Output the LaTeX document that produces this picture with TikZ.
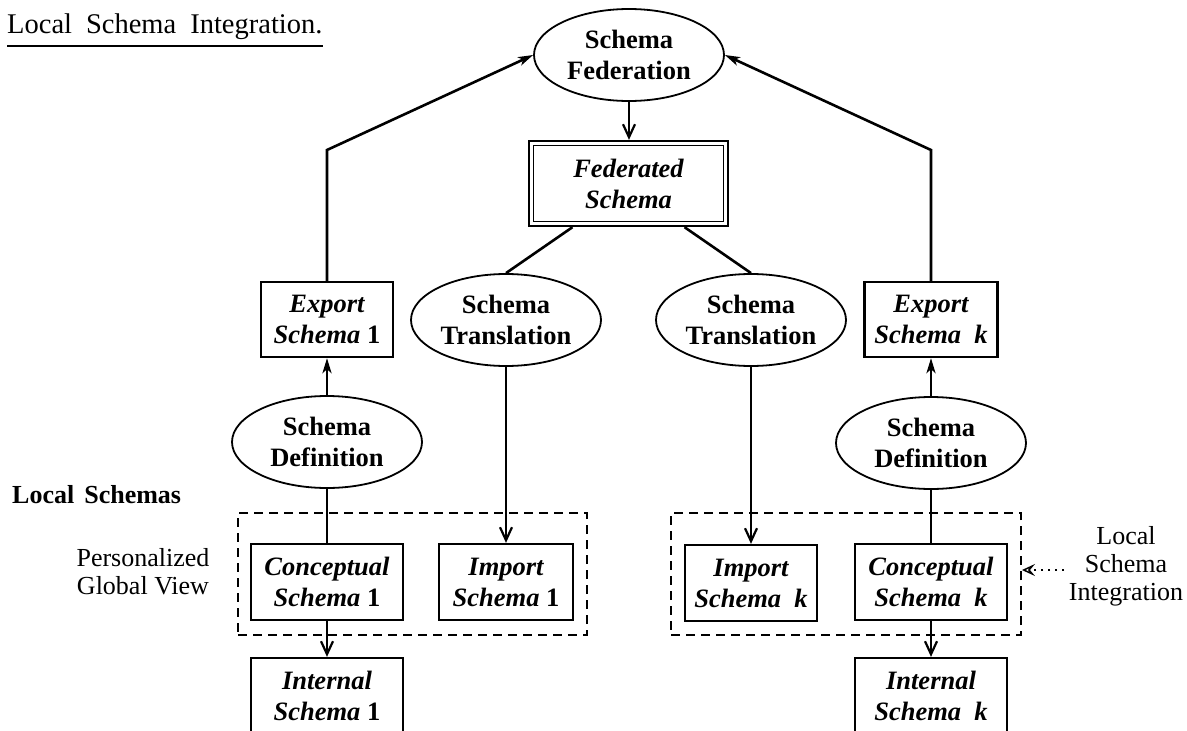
\documentclass[tikz,border=0pt]{standalone}
\usepackage{fontspec}
\setmainfont{Liberation Serif}
\usetikzlibrary{arrows.meta,shapes.geometric,calc}
\begin{document}
\begin{tikzpicture}[x=1pt,y=-1pt,
  every node/.style={inner sep=0pt, align=center, font=\fontsize{26}{31}\selectfont},
  proc/.style={ellipse, draw, line width=1.8pt, minimum width=190pt, minimum height=92pt, font=\fontsize{26.5}{31}\selectfont\bfseries},
  sbox/.style={draw, line width=2.3pt, minimum height=75pt, font=\fontsize{26.5}{31}\selectfont\bfseries\itshape},
  dashbox/.style={draw, line width=1.9pt, dash pattern=on 9pt off 6pt, minimum width=349pt, minimum height=122pt},
  conn/.style={line width=2.6pt},
  upar/.style={conn, -{Stealth[length=15pt,width=9pt,inset=4pt]}},
  dnar/.style={conn, -{Straight Barb[length=13pt,width=12pt,line width=2.2pt]}},
  lbl/.style={font=\fontsize{26}{28}\selectfont}
]
\useasboundingbox (0,0) rectangle (1187,731);
\clip (0,0) rectangle (1187,731);

% title
\node[anchor=base west, font=\fontsize{28.5}{30}\selectfont] (title) at (7,33) {Local\hspace{14pt}Schema\hspace{14pt}Integration.};
\draw[line width=1.8pt] ([yshift=-13pt]title.base west) -- ([yshift=-13pt]title.base east);

% top
\node[proc] (fed) at (629,55) {Schema\\Federation};
\node[sbox, draw=none, minimum width=199pt, minimum height=85pt] (fs) at (628.5,183.5) {Federated\\Schema};
\draw[line width=1.8pt] ([xshift=1pt,yshift=1pt]fs.south west) rectangle ([xshift=-1pt,yshift=-1pt]fs.north east);
\draw[line width=1.5pt] ([xshift=5.5pt,yshift=5.5pt]fs.south west) rectangle ([xshift=-5.5pt,yshift=-5.5pt]fs.north east);

\node[proc] (t1) at (506,320) {Schema\\Translation};
\node[proc] (t2) at (751,320) {Schema\\Translation};

\node[sbox, minimum width=132pt] (exp1) at (327,319.5) {Export\\Schema \textup{1}};
\node[sbox, minimum width=133pt] (expk) at (931,319.5) {Export\\Schema \ k};

\node[proc] (def1) at (327,442) {Schema\\Definition};
\node[proc] (defk) at (931,443) {Schema\\Definition};

% local schemas
\node[anchor=base west, font=\fontsize{26}{28}\selectfont\bfseries] (ls) at (12,503) {Local\hspace{10pt}Schemas};
\node[lbl] (pgv) at (143,572) {Personalized\\Global View};
\node[lbl] (lsi) at (1126,566) {Local\\Schema\\Integration};

\node[dashbox] (d1) at (412.5,574) {};
\node[dashbox, minimum width=350pt] (dk) at (846,574) {};

\node[sbox, minimum width=152pt, minimum height=76pt] (con1) at (327,582) {Conceptual\\Schema \textup{1}};
\node[sbox, minimum width=134pt, minimum height=76pt] (imp1) at (506,582) {Import\\Schema \textup{1}};
\node[sbox, minimum width=132pt, minimum height=76pt] (impk) at (751,583) {Import\\Schema \ k};
\node[sbox, minimum width=152pt, minimum height=76pt] (conk) at (931,582) {Conceptual\\Schema \ k};

\node[sbox, minimum width=152pt, minimum height=76pt] (int1) at (327,696) {Internal\\Schema \textup{1}};
\node[sbox, minimum width=152pt, minimum height=76pt] (intk) at (931,696) {Internal\\Schema \ k};

% connectors
\coordinate (c1) at (327,150);
\coordinate (ck) at (931,150);
\draw[upar] (exp1.north) -- (c1) -- (fed.west);
\draw[upar] (expk.north) -- (ck) -- (fed.east);
\draw[dnar] (fed.south) -- (fed.south |- fs.north);
\draw[conn] ([xshift=-56pt]fs.south) -- (t1.north);
\draw[conn] ([xshift=56pt]fs.south) -- (t2.north);
\draw[dnar] (t1.south) -- (imp1.north);
\draw[dnar] (t2.south) -- (impk.north);
\draw[upar] (def1.north) -- (exp1.south);
\draw[upar] (defk.north) -- (expk.south);
\draw[conn] (def1.south) -- (con1.north);
\draw[conn] (defk.south) -- (conk.north);
\draw[dnar] (con1.south) -- (int1.north);
\draw[dnar] (conk.south) -- (intk.north);

\coordinate (lsiA) at (1064,570);
\draw[line width=1.8pt, dash pattern=on 2pt off 5pt, -{Stealth[open,length=13pt,width=12pt,inset=5pt,line width=1.5pt]}] (lsiA) -- (lsiA -| dk.east);
\end{tikzpicture}
\end{document}
